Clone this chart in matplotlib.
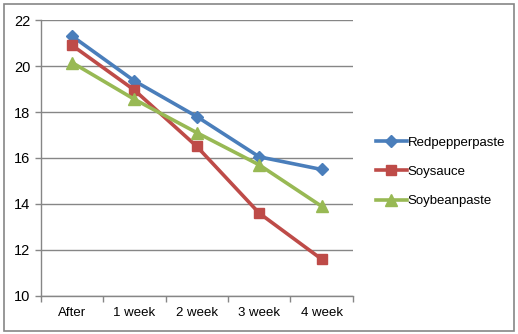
import matplotlib
matplotlib.use('Agg')
import matplotlib.pyplot as plt
from matplotlib.patches import Rectangle
import numpy as np

plt.rcParams['font.family'] = ['Liberation Sans', 'DejaVu Sans']

categories = ['After', '1 week', '2 week', '3 week', '4 week']
redpepper = [21.3, 19.35, 17.8, 16.05, 15.5]
soysauce = [20.9, 18.95, 16.5, 13.6, 11.6]
soybean = [20.15, 18.55, 17.1, 15.7, 13.9]

fig = plt.figure(figsize=(5.18, 3.34), dpi=100)
ax = fig.add_axes([0.079, 0.114, 0.602, 0.826])

x = np.arange(len(categories)) + 0.5
ax.plot(x, redpepper, color='#4A7EBB', lw=2.6, marker='D', ms=6.5, label='Redpepperpaste')
ax.plot(x, soysauce, color='#BE4B48', lw=2.6, marker='s', ms=7.5, label='Soysauce')
ax.plot(x, soybean, color='#98B954', lw=2.6, marker='^', ms=8.5, label='Soybeanpaste')

ax.set_xlim(0, 5)
ax.set_ylim(10, 22)
ax.set_yticks(range(10, 23, 2))
ax.set_xticks(np.arange(6))
ax.set_xticks(x, minor=True)
ax.set_xticklabels([])
ax.set_xticklabels(categories, minor=True)
ax.tick_params(axis='x', which='major', length=4, color='#868686', width=1)
ax.tick_params(axis='x', which='minor', length=0, labelsize=9.5, pad=8)
ax.tick_params(axis='y', length=4, color='#868686', width=1, labelsize=10.5)
ax.grid(axis='y', color='#868686', lw=1)
ax.set_axisbelow(True)
for s in ['top', 'right']:
    ax.spines[s].set_visible(False)
for s in ['left', 'bottom']:
    ax.spines[s].set_color('#868686')
    ax.spines[s].set_linewidth(1)

leg = ax.legend(loc='center left', bbox_to_anchor=(1.035, 0.45), frameon=False,
                fontsize=9.5, handlelength=2.4, handletextpad=0.05, labelspacing=1.3)

fig.patches.append(Rectangle((0.008, 0.01), 0.984, 0.978, transform=fig.transFigure,
                             fill=False, edgecolor='#868686', lw=1.2))

fig.savefig('out.png', dpi=100)
